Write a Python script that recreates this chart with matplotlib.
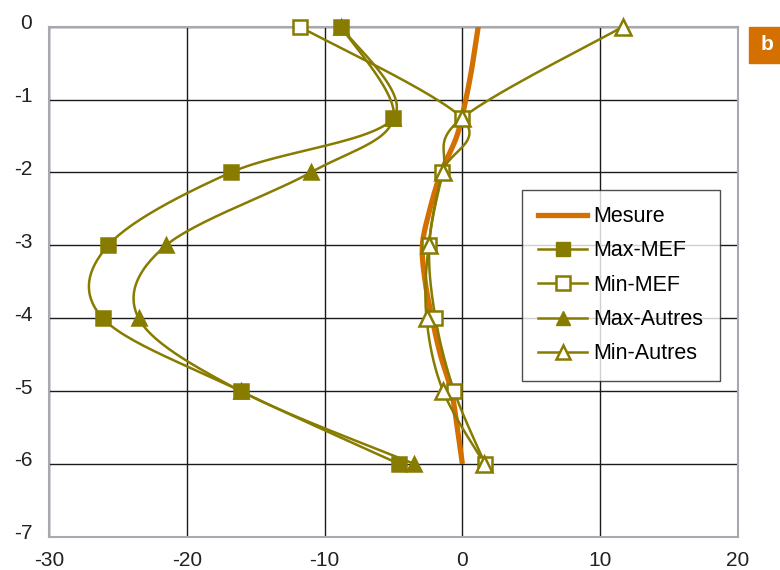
import numpy as np
import matplotlib
matplotlib.use("Agg")
import matplotlib.pyplot as plt
from matplotlib.lines import Line2D
from matplotlib.patches import Rectangle
from matplotlib.transforms import ScaledTranslation

plt.rcParams['font.family'] = ['Liberation Sans', 'DejaVu Sans']

# depth levels (m)
depth = [0, -1.25, -2, -3, -4, -5, -6]
max_mef = [-8.8, -5.0, -16.8, -25.7, -26.1, -16.1, -4.6]
min_mef = [-11.8, -0.05, -1.45, -2.4, -1.95, -0.6, 1.65]
max_autres = [-8.8, -5.0, -11.0, -21.5, -23.5, -16.1, -3.5]
min_autres = [11.65, 0.0, -1.4, -2.45, -2.6, -1.4, 1.6]

mesure_depth = [0, -0.5, -1, -1.5, -2, -2.5, -3, -3.5, -4, -4.5, -5, -5.5, -6]
mesure = [1.15, 0.75, 0.25, -0.4, -1.55, -2.35, -2.9, -2.7, -2.2, -1.6, -0.8, -0.37, 0.0]

labels = ['Mesure', 'Max-MEF', 'Min-MEF', 'Max-Autres', 'Min-Autres']

olive = '#877b00'
orange = '#d47000'


def smooth(xs, ys, n=30):
    # excel-like smoothed line (catmull-rom through the points)
    p = np.column_stack([xs, ys]).astype(float)
    p = np.vstack([p[0], p, p[-1]])
    out = []
    t = np.linspace(0, 1, n)[:, None]
    for i in range(1, len(p) - 2):
        p0, p1, p2, p3 = p[i - 1], p[i], p[i + 1], p[i + 2]
        c1 = p1 + (p2 - p0) / 6
        c2 = p2 - (p3 - p1) / 6
        seg = ((1 - t) ** 3) * p1 + 3 * ((1 - t) ** 2) * t * c1 + 3 * (1 - t) * t ** 2 * c2 + t ** 3 * p2
        out.append(seg if i == 1 else seg[1:])
    out = np.vstack(out)
    return out[:, 0], out[:, 1]


fig = plt.figure(figsize=(7.8, 5.7), dpi=100)
ax = fig.add_axes([0.0628, 0.0584, 0.8833, 0.8947])

sx, sy = smooth(mesure, mesure_depth)
ax.plot(sx, sy, color=orange, lw=3.8, zorder=3, solid_capstyle='butt')

for vals in [max_mef, min_mef, max_autres, min_autres]:
    sx, sy = smooth(vals, depth)
    ax.plot(sx, sy, color=olive, lw=1.8, zorder=4)

# marker order: filled triangles under filled squares, open triangles on top
marker_layers = [
    (max_autres, '^', olive, 10.5),
    (max_mef, 's', olive, 10.5),
    (min_mef, 's', 'white', 10),
    (min_autres, '^', 'white', 11),
]
for k, (vals, mk, fc, ms) in enumerate(marker_layers):
    ax.plot(vals, depth, ls='none', marker=mk, ms=ms, mfc=fc, mec=olive, mew=1.8,
            zorder=5 + k * 0.1, clip_on=False)

ax.set_xlim(-30, 20)
ax.set_ylim(-7, 0)
ax.set_xticks([-30, -20, -10, 0, 10, 20])
ax.set_yticks([0, -1, -2, -3, -4, -5, -6, -7])
ax.set_xticklabels(['-30', '-20', '-10', '0', '10', '20'])
ax.set_yticklabels(['0', '-1', '-2', '-3', '-4', '-5', '-6', '-7'])
ax.tick_params(length=0, labelsize=15, colors='#222222')
ax.tick_params(axis='x', pad=10.5)
ax.tick_params(axis='y', pad=12)
shift = ScaledTranslation(0, 5 / 100, fig.dpi_scale_trans)
for lab in ax.get_yticklabels():
    lab.set_transform(lab.get_transform() + shift)
ax.grid(True, color='#1a1a1a', lw=1.0)
ax.set_axisbelow(True)
for s in ax.spines.values():
    s.set_color('#a8a8b0')
    s.set_linewidth(1.5)

handles = [
    Line2D([], [], color=orange, lw=3.8),
    Line2D([], [], color=olive, lw=1.8, marker='s', ms=9.5, mfc=olive, mec=olive),
    Line2D([], [], color=olive, lw=1.8, marker='s', ms=9.5, mfc='white', mec=olive, mew=1.8),
    Line2D([], [], color=olive, lw=1.8, marker='^', ms=10, mfc=olive, mec=olive),
    Line2D([], [], color=olive, lw=1.8, marker='^', ms=10, mfc='white', mec=olive, mew=1.8),
]
leg = ax.legend(handles, labels, loc='upper left', bbox_to_anchor=(0.686, 0.680),
                fontsize=15.5, frameon=True, fancybox=False, handlelength=2.3,
                handletextpad=0.3, labelspacing=0.62, borderpad=0.75, borderaxespad=0)
leg.get_frame().set_edgecolor('#222222')
leg.get_frame().set_linewidth(1.0)
leg.set_zorder(6)

fig.patches.append(Rectangle((749 / 780, 1 - 63 / 570), 40 / 780, 36 / 570,
                             transform=fig.transFigure, color=orange, zorder=1))
fig.text(767 / 780, 1 - 45 / 570, 'b', color='white', fontsize=15, fontweight='bold',
         ha='center', va='center', zorder=5)

fig.savefig('out.png', dpi=100)
